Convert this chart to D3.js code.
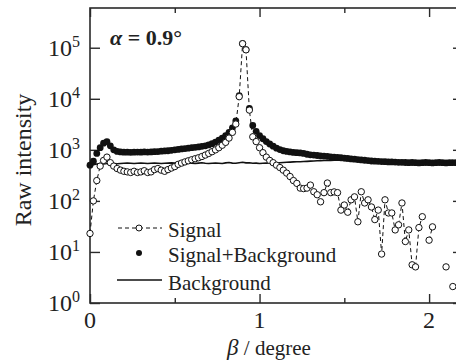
<!DOCTYPE html>
<html><head><meta charset="utf-8">
<script src="https://cdn.jsdelivr.net/npm/d3@7"></script>
<style>body{margin:0;background:#fff}svg{display:block}</style>
</head><body>
<script>
const beta = [0.00,0.02,0.04,0.06,0.08,0.10,0.12,0.14,0.16,0.18,0.20,0.22,0.24,0.26,0.28,0.30,0.32,0.34,0.36,0.38,0.40,0.42,0.44,0.46,0.48,0.50,0.52,0.54,0.56,0.58,0.60,0.62,0.64,0.66,0.68,0.70,0.72,0.74,0.76,0.78,0.80,0.82,0.84,0.86,0.88,0.90,0.92,0.94,0.96,0.98,1.00,1.02,1.04,1.06,1.08,1.10,1.12,1.14,1.16,1.18,1.20,1.22,1.24,1.26,1.28,1.30,1.32,1.34,1.36,1.38,1.40,1.42,1.44,1.46,1.48,1.50,1.52,1.54,1.56,1.58,1.60,1.62,1.64,1.66,1.68,1.70,1.72,1.74,1.76,1.78,1.80,1.82,1.84,1.86,1.88,1.90,1.92,1.94,1.96,1.98,2.00,2.02,2.04,2.06,2.08,2.10,2.12,2.14,2.16];
const signal = [23,100,250,480,620,720,560,480,430,400,380,370,360,380,360,370,390,360,370,410,430,400,380,410,440,470,520,550,580,610,640,670,700,740,790,850,920,1000,1100,1230,1400,1700,2200,3200,11000,120000,91000,6000,1800,1450,1100,880,720,620,560,500,450,400,350,300,250,220,178,174,178,204,151,132,96,145,224,145,150,145,66,83,60,105,120,39,151,91,105,76,43,66,9.1,105,58,58,27,34,91,16,27,5.6,5.1,30,49,null,17,31,null,null,null,5.1,null,2.1,null];
const signalBg = [500,600,850,1100,1350,1450,1200,1000,930,910,900,900,895,900,905,900,910,905,910,920,925,940,950,960,980,1000,1020,1040,1060,1080,1100,1120,1140,1170,1200,1250,1320,1420,1550,1700,1900,2200,2700,3700,11500,120500,91500,6500,3000,2300,1900,1650,1450,1300,1180,1080,1010,960,930,910,890,880,870,850,820,800,790,775,765,755,745,730,720,710,700,690,680,665,655,645,635,625,615,605,600,595,590,585,580,580,575,570,570,565,560,565,560,555,560,565,560,555,560,565,560,555,560,560,560];
const background = [480,510,530,540,530,540,545,540,535,540,545,550,545,540,545,550,545,540,545,550,545,540,545,550,555,550,545,550,560,550,545,540,550,560,545,540,545,550,545,540,555,565,550,545,560,570,555,560,545,550,540,545,550,545,550,555,560,565,570,575,580,585,585,590,595,600,605,610,615,620,625,620,625,630,625,620,615,610,605,600,595,590,585,580,575,570,570,565,560,555,555,550,555,550,550,555,550,555,550,545,550,555,550,545,550,545,550,545,550];
const xTicks = [0,1,2];
const xMinor = [0.5,1.5];
const yTicks = [1,10,100,1000,10000,100000];
const yExp = ["0","1","2","3","4","5"];
const legendLabels = ["Signal","Signal+Background","Background"];

const FONT="'Liberation Serif'";
const W=456,H=363;
const svg=d3.select("body").append("svg").attr("width",W).attr("height",H);
const x=d3.scaleLinear().domain([0,2.2]).range([90,463]);
const y=d3.scaleLog().domain([1,6e5]).range([303,8]);
const pts=beta.map((b,i)=>({b,s:signal[i],sb:signalBg[i],bg:background[i]}));

const frame="#2a2a2a";
svg.append("rect").attr("x",90).attr("y",8).attr("width",463-90).attr("height",303-8)
  .attr("fill","none").attr("stroke",frame).attr("stroke-width",1.6);

svg.append("g").attr("transform","translate(0,303)")
  .call(d3.axisBottom(x).tickValues(xTicks).tickSize(-9).tickFormat(""));
svg.append("g").attr("transform","translate(0,303)")
  .call(d3.axisBottom(x).tickValues(xMinor).tickSize(-5).tickFormat(""));
svg.append("g").attr("transform","translate(0,8)")
  .call(d3.axisTop(x).tickValues(xTicks).tickSize(-9).tickFormat(""));
svg.append("g").attr("transform","translate(0,8)")
  .call(d3.axisTop(x).tickValues(xMinor).tickSize(-5).tickFormat(""));
svg.append("g").attr("transform","translate(90,0)")
  .call(d3.axisLeft(y).tickValues(yTicks).tickSize(-10).tickFormat(""));
svg.append("g").attr("transform","translate(463,0)")
  .call(d3.axisRight(y).tickValues(yTicks).tickSize(-10).tickFormat(""));
svg.selectAll(".domain").remove();
svg.selectAll(".tick line").attr("stroke",frame).attr("stroke-width",1.4);

const txt=sel=>sel.attr("fill","#222").style("font-family",FONT);

svg.append("g").selectAll("text").data(xTicks).join("text").call(txt)
  .attr("x",d=>x(d)).attr("y",328).attr("text-anchor","middle")
  .attr("font-size",24).text(d=>d);
const yl=svg.append("g").selectAll("text").data(yTicks).join("text").call(txt)
  .attr("x",80).attr("y",d=>y(d)+8).attr("text-anchor","end").attr("font-size",24);
yl.append("tspan").text("10");
yl.append("tspan").attr("dy",-9).attr("font-size",16).text((d,i)=>yExp[i]);

svg.append("text").call(txt).attr("transform","translate(31,160) rotate(-90)")
  .attr("text-anchor","middle").attr("font-size",24).text("Raw intensity");
const xt=svg.append("text").call(txt).attr("x",269).attr("y",355).attr("text-anchor","middle").attr("font-size",21);
xt.append("tspan").attr("font-style","italic").attr("font-size",23).text("β");
xt.append("tspan").text(" / degree");

const an=svg.append("text").call(txt).attr("x",110).attr("y",45).attr("font-size",22).attr("font-weight","bold");
an.append("tspan").attr("font-style","italic").text("α");
an.append("tspan").text(" = 0.9°");

const g=svg.append("g");
g.selectAll("circle.sb").data(pts).join("circle").attr("class","sb")
  .attr("cx",d=>x(d.b)).attr("cy",d=>y(d.sb)).attr("r",3.4).attr("fill","#111");
g.append("path").datum(pts)
  .attr("d",d3.line().x(d=>x(d.b)).y(d=>y(d.bg)))
  .attr("fill","none").attr("stroke","#111").attr("stroke-width",1.6);
g.append("path").datum(pts)
  .attr("d",d3.line().defined(d=>d.s!=null).x(d=>x(d.b)).y(d=>y(d.s)))
  .attr("fill","none").attr("stroke","#111").attr("stroke-width",1).attr("stroke-dasharray","4,3");
g.selectAll("circle.s").data(pts.filter(d=>d.s!=null)).join("circle").attr("class","s")
  .attr("cx",d=>x(d.b)).attr("cy",d=>y(d.s)).attr("r",3.2).attr("fill","#fff")
  .attr("stroke","#111").attr("stroke-width",1);

const lg=svg.append("g");
const ly=[228,253,280], lt=[237,262,290];
lg.append("line").attr("x1",118).attr("x2",162).attr("y1",ly[0]).attr("y2",ly[0])
  .attr("stroke","#111").attr("stroke-dasharray","4,3");
lg.append("circle").attr("cx",139).attr("cy",ly[0]).attr("r",3).attr("fill","#fff").attr("stroke","#111");
lg.append("circle").attr("cx",139).attr("cy",ly[1]).attr("r",3).attr("fill","#111");
lg.append("line").attr("x1",117).attr("x2",162).attr("y1",ly[2]).attr("y2",ly[2])
  .attr("stroke","#111").attr("stroke-width",1.6);
lg.selectAll("text").data(legendLabels).join("text").call(txt)
  .attr("x",168).attr("y",(d,i)=>lt[i]).attr("font-size",21).text(d=>d);
</script>
</body></html>
